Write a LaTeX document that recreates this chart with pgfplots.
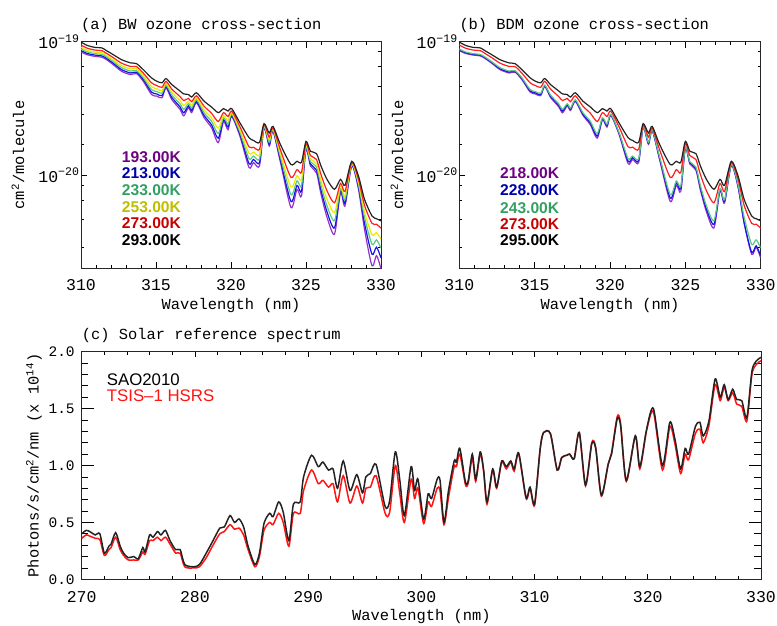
\documentclass[border=0pt]{standalone}
\usepackage{pgfplots}
\pgfplotsset{compat=1.18}
\usepackage{pgfplotstable}
\usepackage{fontspec}
\newfontfamily\hs{Liberation Sans}
\newfontfamily\mono{Liberation Mono}
\newcommand\idl{\mono\fontsize{15.4}{18}\selectfont}
\newcommand\idlt{\mono\fontsize{16.5}{18}\selectfont}
\newcommand\idly{\mono\fontsize{14.5}{18}\selectfont}
\newcommand\leg{\hs\bfseries\fontsize{15.6}{18}\selectfont}
\newcommand\legc{\hs\fontsize{16.8}{18}\selectfont}

\definecolor{l193}{RGB}{150,50,200}
\definecolor{l213}{RGB}{20,20,230}
\definecolor{l233}{RGB}{90,200,130}
\definecolor{l253}{RGB}{235,235,0}
\definecolor{l273}{RGB}{255,30,30}
\definecolor{l293}{RGB}{35,35,35}
\definecolor{t193}{RGB}{110,0,130}
\definecolor{t213}{RGB}{0,0,170}
\definecolor{t233}{RGB}{50,160,100}
\definecolor{t253}{RGB}{190,190,0}
\definecolor{t273}{RGB}{200,0,0}
\definecolor{t293}{RGB}{0,0,0}
\definecolor{tsis}{RGB}{255,20,20}

\pgfplotstableread{
x k293 k273 k253 k233 k213 k193
310.00 9.95e-20 9.45e-20 9.10e-20 8.82e-20 8.58e-20 8.38e-20
310.40 9.40e-20 8.96e-20 8.64e-20 8.40e-20 8.18e-20 8.00e-20
310.90 9.08e-20 8.67e-20 8.38e-20 8.15e-20 7.95e-20 7.78e-20
311.40 8.98e-20 8.56e-20 8.26e-20 8.02e-20 7.82e-20 7.65e-20
311.70 8.57e-20 8.18e-20 7.90e-20 7.69e-20 7.50e-20 7.34e-20
312.15 8.00e-20 7.60e-20 7.31e-20 7.09e-20 6.90e-20 6.74e-20
312.70 7.34e-20 6.91e-20 6.62e-20 6.39e-20 6.18e-20 6.01e-20
313.30 6.94e-20 6.53e-20 6.25e-20 6.03e-20 5.83e-20 5.67e-20
313.70 6.85e-20 6.51e-20 6.27e-20 6.07e-20 5.91e-20 5.77e-20
314.15 6.18e-20 5.82e-20 5.57e-20 5.38e-20 5.21e-20 5.06e-20
314.70 5.36e-20 4.92e-20 4.62e-20 4.38e-20 4.19e-20 4.02e-20
315.05 5.06e-20 4.69e-20 4.43e-20 4.23e-20 4.06e-20 3.91e-20
315.40 4.92e-20 4.55e-20 4.30e-20 4.11e-20 3.94e-20 3.80e-20
315.67 5.30e-20 5.05e-20 4.87e-20 4.73e-20 4.62e-20 4.51e-20
316.05 4.78e-20 4.42e-20 4.18e-20 3.99e-20 3.83e-20 3.69e-20
316.60 4.27e-20 3.88e-20 3.62e-20 3.42e-20 3.25e-20 3.11e-20
316.85 4.06e-20 3.62e-20 3.33e-20 3.11e-20 2.93e-20 2.78e-20
317.16 4.02e-20 3.76e-20 3.57e-20 3.43e-20 3.30e-20 3.20e-20
317.38 3.85e-20 3.55e-20 3.34e-20 3.18e-20 3.05e-20 2.94e-20
317.70 4.14e-20 3.93e-20 3.79e-20 3.67e-20 3.57e-20 3.49e-20
318.20 3.59e-20 3.29e-20 3.09e-20 2.94e-20 2.81e-20 2.70e-20
318.70 3.24e-20 2.91e-20 2.69e-20 2.53e-20 2.38e-20 2.27e-20
319.15 2.94e-20 2.52e-20 2.25e-20 2.05e-20 1.89e-20 1.75e-20
319.50 3.15e-20 2.94e-20 2.80e-20 2.69e-20 2.60e-20 2.52e-20
319.80 3.02e-20 2.75e-20 2.56e-20 2.41e-20 2.29e-20 2.19e-20
320.05 3.15e-20 3.02e-20 2.93e-20 2.86e-20 2.80e-20 2.74e-20
320.60 2.46e-20 2.30e-20 2.18e-20 2.09e-20 2.02e-20 1.95e-20
321.20 1.91e-20 1.63e-20 1.46e-20 1.33e-20 1.22e-20 1.14e-20
321.50 1.82e-20 1.62e-20 1.49e-20 1.39e-20 1.31e-20 1.24e-20
321.90 1.76e-20 1.56e-20 1.42e-20 1.32e-20 1.24e-20 1.17e-20
322.20 2.43e-20 2.38e-20 2.34e-20 2.31e-20 2.28e-20 2.26e-20
322.55 2.07e-20 1.93e-20 1.84e-20 1.76e-20 1.70e-20 1.65e-20
322.80 2.32e-20 2.26e-20 2.22e-20 2.19e-20 2.16e-20 2.13e-20
323.30 1.69e-20 1.54e-20 1.44e-20 1.36e-20 1.29e-20 1.24e-20
324.00 1.20e-20 9.61e-21 8.16e-21 7.14e-21 6.34e-21 5.71e-21
324.40 1.27e-20 1.10e-20 9.88e-21 9.05e-21 8.37e-21 7.82e-21
324.70 1.25e-20 1.05e-20 9.23e-21 8.30e-21 7.56e-21 6.97e-21
325.00 1.79e-20 1.72e-20 1.67e-20 1.62e-20 1.59e-20 1.56e-20
325.30 1.51e-20 1.40e-20 1.32e-20 1.26e-20 1.21e-20 1.17e-20
325.70 1.45e-20 1.31e-20 1.22e-20 1.15e-20 1.09e-20 1.04e-20
326.00 1.17e-20 1.01e-20 9.09e-21 8.33e-21 7.72e-21 7.21e-21
326.40 9.29e-21 7.63e-21 6.61e-21 5.88e-21 5.30e-21 4.83e-21
326.90 7.82e-21 6.20e-21 5.23e-21 4.55e-21 4.02e-21 3.61e-21
327.30 9.29e-21 8.67e-21 8.24e-21 7.91e-21 7.63e-21 7.39e-21
327.60 8.38e-21 7.53e-21 6.97e-21 6.53e-21 6.17e-21 5.87e-21
328.05 1.27e-20 1.24e-20 1.22e-20 1.20e-20 1.18e-20 1.17e-20
328.50 9.83e-21 9.29e-21 8.83e-21 8.47e-21 8.13e-21 7.82e-21
328.90 6.59e-21 5.94e-21 5.30e-21 4.83e-21 4.36e-21 3.93e-21
329.40 4.94e-21 4.35e-21 3.57e-21 3.03e-21 2.55e-21 2.09e-21
329.70 4.71e-21 4.28e-21 3.70e-21 3.27e-21 2.88e-21 2.49e-21
330.00 4.54e-21 4.00e-21 3.31e-21 2.83e-21 2.39e-21 1.98e-21
}\tableBW

\pgfplotstableread{
x k295 k273 k243 k228 k218
310.00 9.95e-20 9.45e-20 8.82e-20 8.70e-20 8.58e-20
310.40 9.40e-20 8.96e-20 8.40e-20 8.29e-20 8.18e-20
310.90 9.08e-20 8.67e-20 8.15e-20 8.05e-20 7.95e-20
311.40 8.98e-20 8.56e-20 8.02e-20 7.92e-20 7.82e-20
311.70 8.57e-20 8.18e-20 7.69e-20 7.59e-20 7.50e-20
312.15 8.00e-20 7.60e-20 7.09e-20 7.00e-20 6.90e-20
312.70 7.34e-20 6.91e-20 6.39e-20 6.28e-20 6.18e-20
313.30 6.94e-20 6.53e-20 6.03e-20 5.93e-20 5.83e-20
313.70 6.85e-20 6.51e-20 6.07e-20 5.99e-20 5.91e-20
314.15 6.18e-20 5.82e-20 5.38e-20 5.29e-20 5.21e-20
314.70 5.36e-20 4.92e-20 4.38e-20 4.28e-20 4.19e-20
315.05 5.06e-20 4.69e-20 4.23e-20 4.14e-20 4.06e-20
315.40 4.92e-20 4.55e-20 4.11e-20 4.02e-20 3.94e-20
315.67 5.30e-20 5.05e-20 4.73e-20 4.67e-20 4.62e-20
316.05 4.78e-20 4.42e-20 3.99e-20 3.91e-20 3.83e-20
316.60 4.27e-20 3.88e-20 3.42e-20 3.33e-20 3.25e-20
316.85 4.06e-20 3.62e-20 3.11e-20 3.02e-20 2.93e-20
317.16 4.02e-20 3.76e-20 3.43e-20 3.37e-20 3.30e-20
317.38 3.85e-20 3.55e-20 3.18e-20 3.12e-20 3.05e-20
317.70 4.14e-20 3.93e-20 3.67e-20 3.62e-20 3.57e-20
318.20 3.59e-20 3.29e-20 2.94e-20 2.87e-20 2.81e-20
318.70 3.24e-20 2.91e-20 2.53e-20 2.45e-20 2.38e-20
319.15 2.94e-20 2.52e-20 2.05e-20 1.96e-20 1.89e-20
319.50 3.15e-20 2.94e-20 2.69e-20 2.64e-20 2.60e-20
319.80 3.02e-20 2.75e-20 2.41e-20 2.35e-20 2.29e-20
320.05 3.15e-20 3.02e-20 2.86e-20 2.83e-20 2.80e-20
320.60 2.46e-20 2.30e-20 2.09e-20 2.06e-20 2.02e-20
321.20 1.91e-20 1.63e-20 1.33e-20 1.27e-20 1.22e-20
321.50 1.82e-20 1.62e-20 1.39e-20 1.35e-20 1.31e-20
321.90 1.76e-20 1.56e-20 1.32e-20 1.28e-20 1.24e-20
322.20 2.43e-20 2.38e-20 2.31e-20 2.30e-20 2.28e-20
322.55 2.07e-20 1.93e-20 1.76e-20 1.73e-20 1.70e-20
322.80 2.32e-20 2.26e-20 2.19e-20 2.17e-20 2.16e-20
323.30 1.69e-20 1.54e-20 1.36e-20 1.33e-20 1.29e-20
324.00 1.20e-20 9.61e-21 7.14e-21 6.73e-21 6.34e-21
324.40 1.27e-20 1.10e-20 9.05e-21 8.71e-21 8.37e-21
324.70 1.25e-20 1.05e-20 8.30e-21 7.93e-21 7.56e-21
325.00 1.79e-20 1.72e-20 1.62e-20 1.60e-20 1.59e-20
325.30 1.51e-20 1.40e-20 1.26e-20 1.24e-20 1.21e-20
325.70 1.45e-20 1.31e-20 1.15e-20 1.12e-20 1.09e-20
326.00 1.17e-20 1.01e-20 8.33e-21 8.02e-21 7.72e-21
326.40 9.29e-21 7.63e-21 5.88e-21 5.58e-21 5.30e-21
326.90 7.82e-21 6.20e-21 4.55e-21 4.28e-21 4.02e-21
327.30 9.29e-21 8.67e-21 7.91e-21 7.77e-21 7.63e-21
327.60 8.38e-21 7.53e-21 6.53e-21 6.35e-21 6.17e-21
328.05 1.27e-20 1.24e-20 1.20e-20 1.19e-20 1.18e-20
328.50 9.83e-21 9.29e-21 8.47e-21 8.22e-21 8.13e-21
328.90 6.59e-21 5.94e-21 4.83e-21 4.41e-21 4.36e-21
329.40 4.94e-21 4.35e-21 3.03e-21 2.64e-21 2.55e-21
329.70 4.71e-21 4.28e-21 3.27e-21 2.95e-21 2.88e-21
330.00 4.54e-21 4.00e-21 2.83e-21 2.47e-21 2.39e-21
}\tableBDM

\pgfplotstableread{
x sao tsis
270.0 0.40 0.36
270.4 0.43 0.39
270.7 0.42 0.38
271.2 0.39 0.36
271.6 0.40 0.35
272.0 0.23 0.21
272.4 0.29 0.26
272.6 0.31 0.28
273.0 0.41 0.37
273.4 0.29 0.26
273.7 0.23 0.21
274.1 0.19 0.17
274.6 0.20 0.17
275.0 0.18 0.17
275.4 0.28 0.24
275.6 0.24 0.22
276.0 0.39 0.34
276.3 0.37 0.34
276.7 0.42 0.37
277.0 0.39 0.34
277.4 0.43 0.37
277.8 0.34 0.31
278.3 0.26 0.23
278.7 0.26 0.23
279.1 0.13 0.11
279.9 0.11 0.10
280.4 0.13 0.11
281.0 0.23 0.19
281.6 0.34 0.30
282.2 0.45 0.40
282.6 0.46 0.42
283.1 0.56 0.48
283.5 0.50 0.44
283.9 0.53 0.45
284.3 0.46 0.39
284.7 0.29 0.26
285.3 0.13 0.11
285.7 0.23 0.20
286.1 0.49 0.43
286.6 0.58 0.50
286.9 0.55 0.48
287.4 0.68 0.58
287.8 0.59 0.50
288.3 0.34 0.29
288.7 0.66 0.58
289.3 0.68 0.58
289.6 0.90 0.78
290.3 1.09 0.96
290.9 0.99 0.84
291.3 1.03 0.87
291.8 0.96 0.81
292.2 0.97 0.84
292.6 0.80 0.68
293.1 1.04 0.91
293.7 0.78 0.67
294.3 0.92 0.82
294.8 0.76 0.67
295.1 0.90 0.80
295.5 0.93 0.81
296.0 1.01 0.91
296.8 0.64 0.58
297.2 0.69 0.59
297.7 1.12 1.00
298.1 0.87 0.75
298.5 0.56 0.50
299.1 0.99 0.88
299.4 0.78 0.71
299.7 0.88 0.80
300.2 0.53 0.49
300.6 0.75 0.68
300.9 0.71 0.64
301.4 0.88 0.80
301.65 0.87 0.78
302.0 0.50 0.48
302.4 0.78 0.72
302.9 1.04 0.99
303.1 1.03 0.99
303.4 1.15 1.10
303.9 0.85 0.83
304.15 0.87 0.85
304.5 1.10 1.07
304.8 0.88 0.86
305.2 1.12 1.10
305.5 0.96 0.95
305.8 0.68 0.66
306.3 0.97 0.96
306.65 0.81 0.80
307.1 1.04 1.03
307.5 0.99 0.97
307.9 1.04 1.03
308.2 0.97 0.95
308.6 1.11 1.10
309.25 0.72 0.71
309.6 0.81 0.80
310.0 0.66 0.65
310.5 1.15 1.15
310.8 1.29 1.29
311.4 1.28 1.28
312.0 0.96 0.96
312.4 1.07 1.07
312.85 1.09 1.09
313.1 1.10 1.10
313.5 1.06 1.06
313.95 1.29 1.29
314.5 0.83 0.82
315.05 1.19 1.20
315.4 1.15 1.16
315.9 0.74 0.73
316.5 1.01 1.01
316.8 1.10 1.11
317.3 1.41 1.43
317.6 1.35 1.37
318.1 0.87 0.86
318.9 1.26 1.26
319.3 0.99 0.97
319.9 1.32 1.31
320.5 1.50 1.47
321.3 1.00 0.96
321.95 1.38 1.34
322.4 1.23 1.19
322.9 0.97 0.93
323.3 1.15 1.10
323.6 1.10 1.05
324.2 1.34 1.28
324.6 1.38 1.32
324.9 1.26 1.20
325.4 1.39 1.35
325.95 1.76 1.71
326.4 1.60 1.57
326.75 1.71 1.69
327.1 1.58 1.57
327.5 1.67 1.64
327.85 1.58 1.54
328.3 1.57 1.52
328.75 1.42 1.39
329.2 1.83 1.80
329.6 1.92 1.89
330.0 1.95 1.92
}\tableSolar

\begin{document}
\begin{tikzpicture}
\useasboundingbox (0,0) rectangle (777pt,626pt);

% (a)
\begin{axis}[ymode=log, at={(81pt,357.7pt)}, anchor=south west,
  scale only axis, width=300pt, height=226.6pt,
  axis line style={black!85, line width=0.9pt},
  tick style={black, line width=0.7pt},
  tick align=inside,
  ticklabel style={font=\idlt},
  label style={font=\idl},
  /pgf/number format/assume math mode=true,
  xmin=310, xmax=330, ymin=2e-21, ymax=1e-19,
  xtick={310,315,320,325,330}, minor x tick num=4,
  ytick={1e-20,1e-19}, yticklabels={10\textsuperscript{−20},10\textsuperscript{−19}},
  minor ytick={8.42e-20,6.51e-20,4.62e-20,2.85e-20,1.70e-20,8.42e-21,6.51e-21,4.62e-21,2.85e-21},
  major tick length=6pt, minor tick length=3pt,
  xticklabel style={yshift=-8pt},
  yticklabel style={xshift=2pt},
  title={(a) BW ozone cross-section},
  title style={font=\idl, at={(axis description cs:0,1)}, anchor=west, inner sep=0pt, yshift=10.7pt},
  xlabel={Wavelength (nm)},
  xlabel style={at={(axis description cs:0.5,-0.165)}, anchor=center, inner sep=0pt},
  ylabel={cm\textsuperscript{2}/molecule},
  ylabel style={at={(axis description cs:-0.21,0.5)}, anchor=center, inner sep=0pt},
  every axis plot/.append style={line width=1.2pt, smooth, tension=0.45}]
\addplot[l193] table[x=x,y=k193]{\tableBW};
\addplot[l213] table[x=x,y=k213]{\tableBW};
\addplot[l233] table[x=x,y=k233]{\tableBW};
\addplot[l253] table[x=x,y=k253]{\tableBW};
\addplot[l273] table[x=x,y=k273]{\tableBW};
\addplot[l293] table[x=x,y=k293]{\tableBW};
\node[anchor=west, inner sep=0pt, font=\leg, text=t193] at (rel axis cs:0.1357,0.4925) {193.00K};
\node[anchor=west, inner sep=0pt, font=\leg, text=t213] at (rel axis cs:0.1357,0.4188) {213.00K};
\node[anchor=west, inner sep=0pt, font=\leg, text=t233] at (rel axis cs:0.1357,0.3451) {233.00K};
\node[anchor=west, inner sep=0pt, font=\leg, text=t253] at (rel axis cs:0.1357,0.2714) {253.00K};
\node[anchor=west, inner sep=0pt, font=\leg, text=t273] at (rel axis cs:0.1357,0.1977) {273.00K};
\node[anchor=west, inner sep=0pt, font=\leg, text=t293] at (rel axis cs:0.1357,0.1240) {293.00K};
\end{axis}

% (b)
\begin{axis}[ymode=log, at={(459.3pt,357.7pt)}, anchor=south west,
  scale only axis, width=301.4pt, height=226.6pt,
  axis line style={black!85, line width=0.9pt},
  tick style={black, line width=0.7pt},
  tick align=inside,
  ticklabel style={font=\idlt},
  label style={font=\idl},
  /pgf/number format/assume math mode=true,
  xmin=310, xmax=330, ymin=2e-21, ymax=1e-19,
  xtick={310,315,320,325,330}, minor x tick num=4,
  ytick={1e-20,1e-19}, yticklabels={10\textsuperscript{−20},10\textsuperscript{−19}},
  minor ytick={8.42e-20,6.51e-20,4.62e-20,2.85e-20,1.70e-20,8.42e-21,6.51e-21,4.62e-21,2.85e-21},
  major tick length=6pt, minor tick length=3pt,
  xticklabel style={yshift=-8pt},
  yticklabel style={xshift=2pt},
  title={(b) BDM ozone cross-section},
  title style={font=\idl, at={(axis description cs:0,1)}, anchor=west, inner sep=0pt, yshift=10.7pt},
  xlabel={Wavelength (nm)},
  xlabel style={at={(axis description cs:0.5,-0.165)}, anchor=center, inner sep=0pt},
  ylabel={cm\textsuperscript{2}/molecule},
  ylabel style={at={(axis description cs:-0.2067,0.5)}, anchor=center, inner sep=0pt},
  every axis plot/.append style={line width=1.2pt, smooth, tension=0.45}]
\addplot[l193] table[x=x,y=k218]{\tableBDM};
\addplot[l213] table[x=x,y=k228]{\tableBDM};
\addplot[l233] table[x=x,y=k243]{\tableBDM};
\addplot[l273] table[x=x,y=k273]{\tableBDM};
\addplot[l293] table[x=x,y=k295]{\tableBDM};
\node[anchor=west, inner sep=0pt, font=\leg, text=t193] at (rel axis cs:0.135,0.4192) {218.00K};
\node[anchor=west, inner sep=0pt, font=\leg, text=t213] at (rel axis cs:0.135,0.3433) {228.00K};
\node[anchor=west, inner sep=0pt, font=\leg, text=t233] at (rel axis cs:0.135,0.2674) {243.00K};
\node[anchor=west, inner sep=0pt, font=\leg, text=t273] at (rel axis cs:0.135,0.1942) {273.00K};
\node[anchor=west, inner sep=0pt, font=\leg, text=t293] at (rel axis cs:0.135,0.1227) {295.00K};
\end{axis}

% (c)
\begin{axis}[at={(81.7pt,46.7pt)}, anchor=south west,
  scale only axis, width=679.3pt, height=227.6pt,
  axis line style={black!85, line width=0.9pt},
  tick style={black, line width=0.7pt},
  tick align=inside,
  xticklabel style={font=\idlt, yshift=-9pt},
  yticklabel style={font=\idly, xshift=-3.5pt},
  label style={font=\idl},
  /pgf/number format/assume math mode=true,
  /pgf/number format/fixed,
  /pgf/number format/fixed zerofill,
  /pgf/number format/precision=1,
  xmin=270, xmax=330, ymin=0, ymax=2,
  xtick={270,280,...,330}, minor x tick num=4,
  ytick={0,0.5,1,1.5,2}, minor y tick num=4,
  xticklabels={270,280,290,300,310,320,330},
  major tick length=12pt, minor tick length=6.5pt,
  xtick style={/pgfplots/major tick length=5pt, /pgfplots/minor tick length=3pt},
  title={(c) Solar reference spectrum},
  title style={font=\idl, at={(axis description cs:0,1)}, anchor=west, inner sep=0pt, yshift=9.7pt},
  xlabel={Wavelength (nm)},
  xlabel style={at={(axis description cs:0.5,-0.162)}, anchor=center, inner sep=0pt},
  ylabel={Photons/s/cm\textsuperscript{2}/nm (x 10\textsuperscript{14})},
  ylabel style={at={(axis description cs:-0.0702,0.5)}, anchor=center, inner sep=0pt},
  every axis plot/.append style={line width=1.5pt, smooth, tension=0.45}]
\addplot[tsis] table[x=x,y=tsis]{\tableSolar};
\addplot[l293] table[x=x,y=sao]{\tableSolar};
\node[anchor=west, inner sep=0pt, font=\legc, text=black] at (rel axis cs:0.0368,0.8780) {SAO2010};
\node[anchor=west, inner sep=0pt, font=\legc, text=tsis] at (rel axis cs:0.0368,0.8070) {TSIS\textendash 1 HSRS};
\end{axis}
\end{tikzpicture}
\end{document}
